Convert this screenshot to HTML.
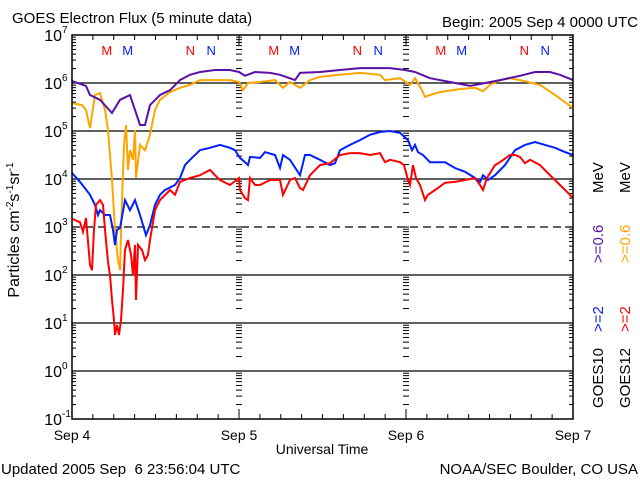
<!DOCTYPE html>
<html><head><meta charset="utf-8"><style>
html,body{margin:0;padding:0;background:#fff;}
svg{display:block;font-family:"Liberation Sans",sans-serif;}
</style></head><body>
<svg id="chart" width="640" height="480" viewBox="0 0 640 480" xmlns="http://www.w3.org/2000/svg">
<rect x="0" y="0" width="640" height="480" fill="#fff"/>
<text x="12" y="23" font-size="15">GOES Electron Flux (5 minute data)</text>
<text x="638" y="27" font-size="15" text-anchor="end">Begin: 2005 Sep 4 0000 UTC</text>
<g id="grid"></g>
<g id="series"></g>
<rect x="72" y="35" width="501" height="384" fill="none" stroke="#000" stroke-width="1.5"/>
<g id="ylabels"></g>
<g id="xlabels"></g>
<g id="marks"></g>
<text transform="translate(19,230) rotate(-90)" font-size="16" text-anchor="middle">Particles cm<tspan font-size="10" dy="-6">-2</tspan><tspan dy="6">s</tspan><tspan font-size="10" dy="-6">-1</tspan><tspan dy="6">sr</tspan><tspan font-size="10" dy="-6">-1</tspan></text>
<text x="322" y="454" font-size="14" text-anchor="middle">Universal Time</text>
<text x="1" y="474" font-size="15" xml:space="preserve">Updated 2005 Sep  6 23:56:04 UTC</text>
<text x="638" y="474" font-size="15" text-anchor="end">NOAA/SEC Boulder, CO USA</text>
<g font-size="15">
<text transform="translate(603,408) rotate(-90)">GOES10</text>
<text transform="translate(603,332) rotate(-90)" fill="#0020ff">&gt;=2</text>
<text transform="translate(603,263) rotate(-90)" fill="#5a10a8">&gt;=0.6</text>
<text transform="translate(603,193) rotate(-90)">MeV</text>
</g>
<g font-size="15">
<text transform="translate(630,408) rotate(-90)">GOES12</text>
<text transform="translate(630,332) rotate(-90)" fill="#ff0000">&gt;=2</text>
<text transform="translate(630,263) rotate(-90)" fill="#ffa500">&gt;=0.6</text>
<text transform="translate(630,193) rotate(-90)">MeV</text>
</g>
</svg>
<script>
const ns="http://www.w3.org/2000/svg";
const decades=[-1,0,1,2,3,4,5,6,7];
const dayLabels=["Sep 4","Sep 5","Sep 6","Sep 7"];
const mnLetters=["M","M","N","N","M","M","N","N","M","M","N","N"];
const mnHours=[5,8,17,20,29,32,41,44,53,56,65,68];
const mnColors=["#ff0000","#0020ff","#ff0000","#0020ff","#ff0000","#0020ff","#ff0000","#0020ff","#ff0000","#0020ff","#ff0000","#0020ff"];

const g10hiT=[0,2.01,2.59,4.02,5.75,6.9,8.34,9.05,9.77,10.49,11.21,12.65,14.08,15.52,16.96,18.4,20.55,22.71,24,24.86,26.3,28.45,29.89,32.05,32.77,35.64,38.51,41.39,45.7,47.86,49.29,51.45,54.32,57.2,58.63,61.51,64.38,66.54,68.69,70.13,72];
const g10hiV=[6.04,5.94,5.75,5.65,5.375,5.65,5.75,5.44,5.125,5.125,5.54,5.75,5.85,6.06,6.17,6.23,6.27,6.27,6.23,6.15,6.23,6.21,6.17,6.06,6.21,6.23,6.27,6.31,6.31,6.27,6.23,6.10,6.02,5.94,5.98,6.06,6.15,6.23,6.23,6.17,6.06];

const g12hiT=[0,1.44,2.01,2.59,3.31,4.02,4.74,5.17,5.75,6.18,6.61,6.9,7.19,7.47,7.76,8.05,8.34,8.77,9.05,9.2,9.77,10.49,11.21,11.93,12.65,14.08,15.52,16.96,18.4,19.83,22.71,24,24.57,25.29,27.02,29.17,30.32,31.33,32.77,34.2,35.64,38.51,41.39,44.26,44.98,47.14,48.57,49.29,50.3,50.73,51.45,52.89,55.76,57.91,59.07,60.07,61.51,62.94,64.38,67.26,69.41,70.85,72];
const g12hiV=[5.58,5.54,5.44,5.06,5.75,5.79,5.44,5.02,3.98,2.94,2.31,2.10,3.56,4.71,5.125,4.19,4.6,4.4,5.02,4.02,4.71,4.6,4.92,5.44,5.65,5.81,5.90,5.96,6.06,6.06,6.06,6.02,5.85,6.0,6.02,6.06,5.90,6.02,5.90,6.06,6.13,6.17,6.21,6.17,6.06,6.10,5.96,6.10,5.85,5.71,5.75,5.81,5.875,5.90,5.83,5.96,6.06,6.10,6.06,5.96,5.75,5.60,5.48];

const g10loT=[0,1.15,2.59,3.31,3.74,4.02,4.74,5.46,5.89,6.18,6.47,6.9,7.62,8.34,9.05,9.77,10.2,10.63,11.21,11.93,12.65,13.37,14.8,15.52,16.24,16.96,18.4,19.83,21.27,22.71,23.42,24.14,24.86,25.29,25.58,27.02,27.74,29.17,29.89,30.32,31.33,32.77,33.48,34.2,35.64,37.08,37.8,38.51,39.95,41.39,42.83,44.26,45.7,47.14,48.29,48.86,49.29,49.72,50.44,51.45,53.6,55.04,56.48,57.91,58.63,59.07,59.78,60.79,62.23,63.66,65.1,66.54,67.97,69.41,70.85,72];
const g10loV=[4.125,3.94,3.67,3.46,3.25,3.35,3.25,3.25,2.94,2.625,2.94,2.98,3.56,3.35,3.56,3.25,3.04,2.83,3.04,3.46,3.67,3.77,3.875,4.02,4.29,4.40,4.60,4.65,4.71,4.65,4.60,4.44,4.35,4.29,4.46,4.44,4.56,4.5,4.23,4.5,4.4,4.08,4.5,4.5,4.4,4.29,4.33,4.6,4.71,4.81,4.92,4.98,5.0,4.96,4.81,4.6,4.71,4.56,4.5,4.35,4.35,4.23,4.15,4.02,3.94,4.08,3.98,4.08,4.29,4.6,4.71,4.77,4.71,4.65,4.56,4.5];

const g12loT=[0,1.15,1.58,2.01,2.59,2.87,3.16,3.45,4.02,4.45,4.74,5.17,5.46,5.75,6.04,6.18,6.47,6.75,7.04,7.33,7.62,8.05,8.48,8.77,9.05,9.2,9.48,10.06,10.49,10.92,11.21,11.93,12.65,14.08,14.8,15.52,16.24,16.96,18.4,19.83,20.55,21.27,22.71,24,24.14,24.86,25.29,25.58,26.3,27.02,28.45,29.89,30.32,31.33,32.05,32.77,33.2,34.2,35.64,37.08,38.51,39.95,41.39,42.83,44.26,44.98,45.7,47.14,47.71,48.29,48.57,49.0,49.44,50.01,50.73,51.16,52.17,53.6,55.04,56.48,57.91,58.63,59.07,59.64,60.79,61.51,62.94,63.66,64.38,65.1,65.82,67.26,68.69,70.13,71.57,72];
const g12loV=[3.17,3.10,2.9,3.19,2.21,2.10,2.94,3.46,3.56,3.46,2.94,2.27,2.0,1.48,1.06,0.75,0.96,0.75,1.06,1.69,2.52,2.73,2.42,2.0,2.625,1.48,2.625,2.52,2.31,2.42,2.73,3.35,3.56,3.77,3.67,3.94,3.98,4.02,4.08,4.19,4.08,3.98,3.875,4.02,3.77,3.6,3.56,4.02,3.875,3.875,3.98,3.98,3.67,3.98,4.02,3.81,3.77,4.08,4.29,4.33,4.5,4.54,4.54,4.5,4.54,4.35,4.4,4.35,4.29,3.98,3.875,4.29,4.02,3.875,3.56,3.67,3.77,3.92,3.94,3.98,4.02,3.875,3.77,4.02,4.29,4.35,4.5,4.5,4.46,4.33,4.4,4.29,4.08,3.875,3.67,3.6];

const X0=72,X1=573,Y0=419,Y1=35,LMIN=-1,LMAX=7,TMAX=72;
function xs(h){return X0+(X1-X0)*h/TMAX;}
function ys(l){return Y0-(Y0-Y1)*(l-LMIN)/(LMAX-LMIN);}
function mk(tag,attrs,parent){const e=document.createElementNS(ns,tag);for(const k in attrs)e.setAttribute(k,attrs[k]);parent.appendChild(e);return e;}

const grid=document.getElementById('grid');
decades.forEach(d=>{
  if(d===LMIN||d===LMAX)return;
  const l=mk('line',{x1:X0,x2:X1,y1:ys(d),y2:ys(d),stroke:'#000','stroke-width':1.3},grid);
  if(d===3)l.setAttribute('stroke-dasharray','8,5');
  
  
});
for(let d=LMIN;d<LMAX;d++){
  for(let m=1;m<=9;m++){
    const yy=ys(d+Math.log10(m));
    const len=m===1?8:4;
    mk('line',{x1:X0,x2:X0+len,y1:yy,y2:yy,stroke:'#000'},grid);
    mk('line',{x1:X1-len,x2:X1,y1:yy,y2:yy,stroke:'#000'},grid);
    [24,48].forEach(h=>{const cx=xs(h);mk('line',{x1:cx-3,x2:cx+3,y1:yy,y2:yy,stroke:'#000'},grid);});
  }
}
for(let h=0;h<=TMAX;h+=3){
  const len=(h%24===0)?10:5;
  mk('line',{x1:xs(h),x2:xs(h),y1:Y0,y2:Y0-len,stroke:'#000'},grid);
  mk('line',{x1:xs(h),x2:xs(h),y1:Y1,y2:Y1+len,stroke:'#000'},grid);
}

const yl=document.getElementById('ylabels');
decades.forEach(d=>{
  const t=mk('text',{x:62,y:ys(d)+6,'font-size':16,'text-anchor':'end'},yl);
  t.textContent='10';
  
  
  const s=mk('text',{x:62,y:ys(d)-2,'font-size':10},yl);
  s.textContent=String(d);
  
  
});
const xl=document.getElementById('xlabels');
dayLabels.forEach((lab,i)=>{
  const t=mk('text',{x:xs(i*24),y:440,'font-size':14,'text-anchor':'middle'},xl);
  t.textContent=lab;
  
  
});
const mg=document.getElementById('marks');
mnLetters.forEach((c,i)=>{
  const t=mk('text',{x:xs(mnHours[i]),y:55,'font-size':13,'text-anchor':'middle',fill:mnColors[i]},mg);
  t.textContent=c;
  
  
});
const sg=document.getElementById('series');
function drawSeries(T,V,color,name){
  const pts=T.map((h,i)=>xs(h).toFixed(1)+','+ys(V[i]).toFixed(1)).join(' ');
  const p=mk('polyline',{points:pts,fill:'none',stroke:color,'stroke-width':2,'stroke-linejoin':'miter'},sg);
  
  
}
drawSeries(g12hiT,g12hiV,'#ffa500','series-goes12-0.6mev');
drawSeries(g10hiT,g10hiV,'#5a10a8','series-goes10-0.6mev');
drawSeries(g10loT,g10loV,'#0020ff','series-goes10-2mev');
drawSeries(g12loT,g12loV,'#ff0000','series-goes12-2mev');
</script>
</body></html>
